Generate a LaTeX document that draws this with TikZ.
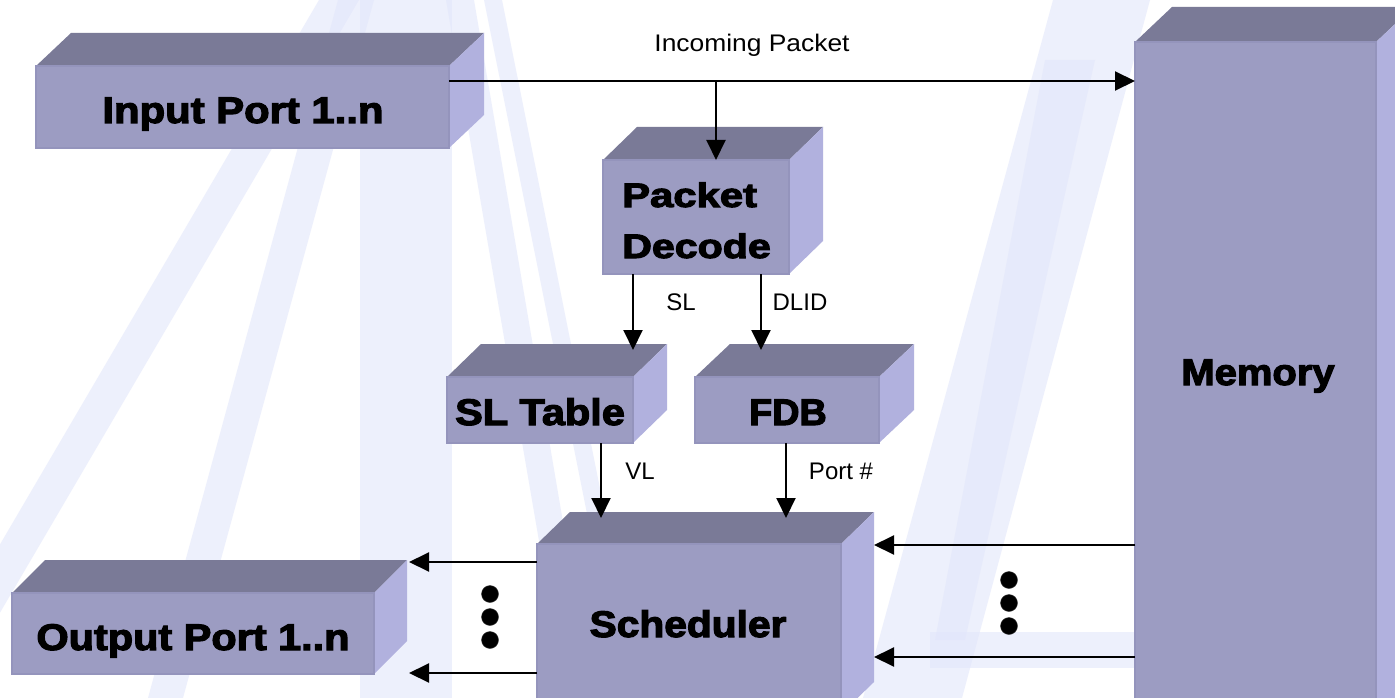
\documentclass[tikz,border=0pt]{standalone}
\usepackage{fontspec}
\usepackage{graphicx}
\setmainfont{Liberation Sans}
\newfontfamily\heavy{Liberation Sans Bold}[FakeBold=3]
\usetikzlibrary{arrows.meta,calc}
\definecolor{topc}{RGB}{122,122,151}
\definecolor{frontc}{RGB}{156,156,194}
\definecolor{edgec}{RGB}{148,148,188}
\definecolor{sidec}{RGB}{177,177,222}
\definecolor{lav}{RGB}{226,230,251}
\newcommand\hv[2]{\scalebox{#1}[1]{#2}}
\newcommand\cuboid[7]{%
  \fill[topc] (#2,#3) -- ++(#6,-#7) -- ++(#4,0) -- ({#2+#4},#3) -- cycle;
  \fill[sidec] ({#2+#4},#3) -- ++(#6,-#7) -- ++(0,#5) -- ({#2+#4},{#3+#5}) -- cycle;
  \node[front, minimum width=#4pt, minimum height=#5pt] (#1) at (#2,#3) {};
}
\tikzset{
  front/.style={fill=frontc, draw=edgec, line width=1.2pt, inner sep=0pt, outer sep=0pt, anchor=north west},
  arr/.style={line width=2pt, -{Triangle[length=20pt,width=19pt]}},
  plain/.style={line width=2pt},
  lbl/.style={font=\fontsize{24}{28}\selectfont, anchor=base, inner sep=0pt},
  hlbl/.style={font=\heavy\fontsize{37}{40}\selectfont, anchor=base, inner sep=0pt},
  blob/.style={circle, fill=black, draw=black!80, minimum size=17pt, inner sep=0pt},
  band/.style={fill=lav, opacity=0.6}
}
\begin{document}
\begin{tikzpicture}[x=1pt,y=-1pt]
\useasboundingbox (0,0) rectangle (1395,698);
\fill[white] (0,0) rectangle (1395,698);
% watermark
\fill[band] (360,0) -- (452,0) -- (452,698) -- (360,698) -- cycle;
\fill[band] (319,0) -- (359,0) -- (-50,698) -- (-90,698) -- cycle;
\fill[band] (338,0) -- (374,0) -- (183,698) -- (148,698) -- cycle;
\fill[band] (446,0) -- (474,0) -- (593,698) -- (566,698) -- cycle;
\fill[band] (484,0) -- (502,0) -- (642,698) -- (624,698) -- cycle;
\fill[band] (1053,0) -- (1150,0) -- (962,698) -- (863,698) -- cycle;
\fill[band] (1045,60) -- (1095,60) -- (965,640) -- (935,640) -- cycle;
\fill[band] (930,632) rectangle (1135,668);
% boxes
\cuboid{ip}{36}{66}{413}{82}{35}{33}
\cuboid{mem}{1135}{42}{241}{680}{37}{35}
\cuboid{pd}{603}{160}{186}{114}{34}{33}
\cuboid{slt}{447}{377}{186}{66}{34}{33}
\cuboid{fdb}{695}{377}{184}{66}{35}{33}
\cuboid{sch}{537}{544}{304}{170}{33}{32}
\cuboid{op}{12}{593}{362}{81}{33}{33}
% labels in boxes
\node[hlbl] (tip) at (243,123) {\hv{1.13}{Input Port 1..n}};
\node[hlbl, font=\heavy\fontsize{34}{36}\selectfont, anchor=base west] (tpd1) at (622,207) {\hv{1.23}{Packet}};
\node[hlbl, font=\heavy\fontsize{34}{36}\selectfont, anchor=base west] (tpd2) at (622,258) {\hv{1.21}{Decode}};
\node[hlbl] (tslt) at (540,425) {\hv{1.12}{SL Table}};
\node[hlbl] (tfdb) at (788,425) {\hv{1.02}{FDB}};
\node[hlbl] (tmem) at (1258,385) {\hv{1.08}{Memory}};
\node[hlbl] (tsch) at (688,637) {\hv{1.10}{Scheduler}};
\node[hlbl] (top) at (193,650) {\hv{1.12}{Output Port 1..n}};
% connectors
\coordinate (inc) at (716,81);
\draw[plain] (ip.north east |- inc) -- (inc);
\draw[arr] (inc) -- (mem.west |- inc);
\draw[arr] (inc) -- (pd.north -| inc);
\coordinate (slin) at ($(slt.north east)+(0,-27)$);
\coordinate (fdbin) at ($(fdb.north west)+(66,-27)$);
\draw[arr] (pd.south -| slin) -- (slin);
\draw[arr] (pd.south -| fdbin) -- (fdbin);
\coordinate (vlin) at ($(sch.north west)+(64,-26)$);
\coordinate (ptin) at ($(sch.north west)+(249,-26)$);
\draw[arr] (slt.south -| vlin) -- (vlin);
\draw[arr] (fdb.south -| ptin) -- (ptin);
\coordinate (o1) at (409,562);
\coordinate (o2) at (409,673);
\draw[arr] (sch.west |- o1) -- (o1);
\draw[arr] (sch.west |- o2) -- (o2);
\coordinate (s1) at (874,545);
\coordinate (s2) at (874,657);
\draw[arr] (mem.west |- s1) -- (s1);
\draw[arr] (mem.west |- s2) -- (s2);
% connector labels
\node[lbl] (linc) at (752,52) {\hv{1.1}{Incoming Packet}};
\node[lbl] (lsl) at (681,310) {SL};
\node[lbl] (ldl) at (800,310) {DLID};
\node[lbl] (lvl) at (640,479) {VL};
\node[lbl] (lpt) at (841,479) {Port \#};
% dots
\node[blob] (d1) at (490,594) {};
\node[blob] (d2) at (490,617) {};
\node[blob] (d3) at (490,640) {};
\node[blob] (d4) at (1009,580) {};
\node[blob] (d5) at (1009,603) {};
\node[blob] (d6) at (1009,626) {};
\end{tikzpicture}
\end{document}
